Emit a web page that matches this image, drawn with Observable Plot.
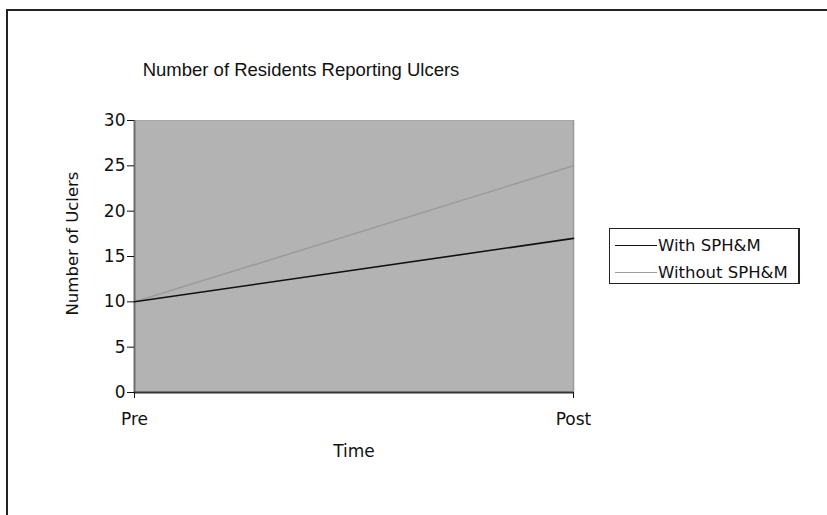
<!DOCTYPE html>
<html>
<head>
<meta charset="utf-8">
<script src="https://cdn.jsdelivr.net/npm/d3@7"></script>
<script src="https://cdn.jsdelivr.net/npm/@observablehq/plot@0.6"></script>
<style>
  html, body { margin: 0; padding: 0; background: #fff; }
  #wrap { position: relative; width: 827px; height: 515px; overflow: hidden; font-family: "DejaVu Sans", Verdana, sans-serif; color: #111; }
  #border { position: absolute; left: 6px; top: 9px; width: 900px; height: 600px; border-top: 2.5px solid #222; border-left: 2.5px solid #222; pointer-events: none; }
  #title { position: absolute; left: 0; width: 602px; top: 59px; text-align: center; font-size: 18.5px; font-family: "Liberation Sans", Arial, sans-serif; }
  #legend { position: absolute; left: 609px; top: 228px; width: 188px; height: 54px; border: 1.5px solid #222; border-right-width: 2px; box-sizing: content-box; font-size: 16.5px; }
  .item { position: absolute; left: 5px; height: 20px; display: flex; align-items: center; }
  .sw { width: 42px; height: 0; border-top-width: 1.5px; border-top-style: solid; margin-right: 1px; }
</style>
</head>
<body>
<div id="wrap">
  <div id="chart"></div>
  <div id="border"></div>
  <div id="title"></div>
  <div id="legend"></div>
</div>
<script>
const times = ["Pre", "Post"];
const seriesNames = ["With SPH&M", "Without SPH&M"];
const withValues = [10, 17];
const withoutValues = [10, 25];
const yTicks = [0, 5, 10, 15, 20, 25, 30];
const seriesColors = ["#111111", "#9c9c9c"];
const titleText = "Number of Residents Reporting Ulcers";
const yLabel = "Number of Uclers";
const xLabel = "Time";

const rows = [];
times.forEach((t, i) => rows.push({time: t, value: withoutValues[i], series: seriesNames[1]}));
times.forEach((t, i) => rows.push({time: t, value: withValues[i], series: seriesNames[0]}));

const plot = Plot.plot({
  width: 827,
  height: 515,
  marginLeft: 134,
  marginRight: 254,
  marginTop: 120,
  marginBottom: 123,
  style: {background: "#fff", fontFamily: "'DejaVu Sans', Verdana, sans-serif", fontSize: "17px", color: "#111", overflow: "visible"},
  x: {type: "point", domain: times, padding: 0},
  y: {domain: [0, 30]},
  color: {domain: seriesNames, range: seriesColors},
  marks: [
    Plot.frame({fill: "#b3b3b3", stroke: "#a8a8a8"}),
    Plot.ruleX([times[1]], {stroke: "#999", strokeWidth: 1.5}),
    Plot.ruleX([times[0]], {stroke: "#6e6e6e", strokeWidth: 2}),
    Plot.ruleY([0], {stroke: "#333", strokeWidth: 2}),
    Plot.axisY({ticks: yTicks, tickSize: 7, tickPadding: 2, label: null}),
    Plot.axisX({tickSize: 6, tickPadding: 14, label: xLabel, labelAnchor: "center", labelOffset: 64, labelArrow: "none"}),
    Plot.text([yLabel], {frameAnchor: "left", textAnchor: "middle", rotate: -90, dx: -62, dy: -13, fontSize: 16.5, fill: "#111"}),
    Plot.line(rows.filter(d => d.series === seriesNames[1]), {x: "time", y: "value", stroke: "series", strokeWidth: 1.6}),
    Plot.line(rows.filter(d => d.series === seriesNames[0]), {x: "time", y: "value", stroke: "series", strokeWidth: 1.6})
  ]
});
document.getElementById("chart").appendChild(plot);
document.getElementById("title").textContent = titleText;

const legend = document.getElementById("legend");
seriesNames.forEach((name, i) => {
  const item = document.createElement("div");
  item.className = "item";
  item.style.top = (6 + i * 27) + "px";
  const sw = document.createElement("span");
  sw.className = "sw";
  sw.style.borderTopColor = seriesColors[i];
  const label = document.createElement("span");
  label.textContent = name;
  item.appendChild(sw);
  item.appendChild(label);
  legend.appendChild(item);
});
</script>
</body>
</html>
